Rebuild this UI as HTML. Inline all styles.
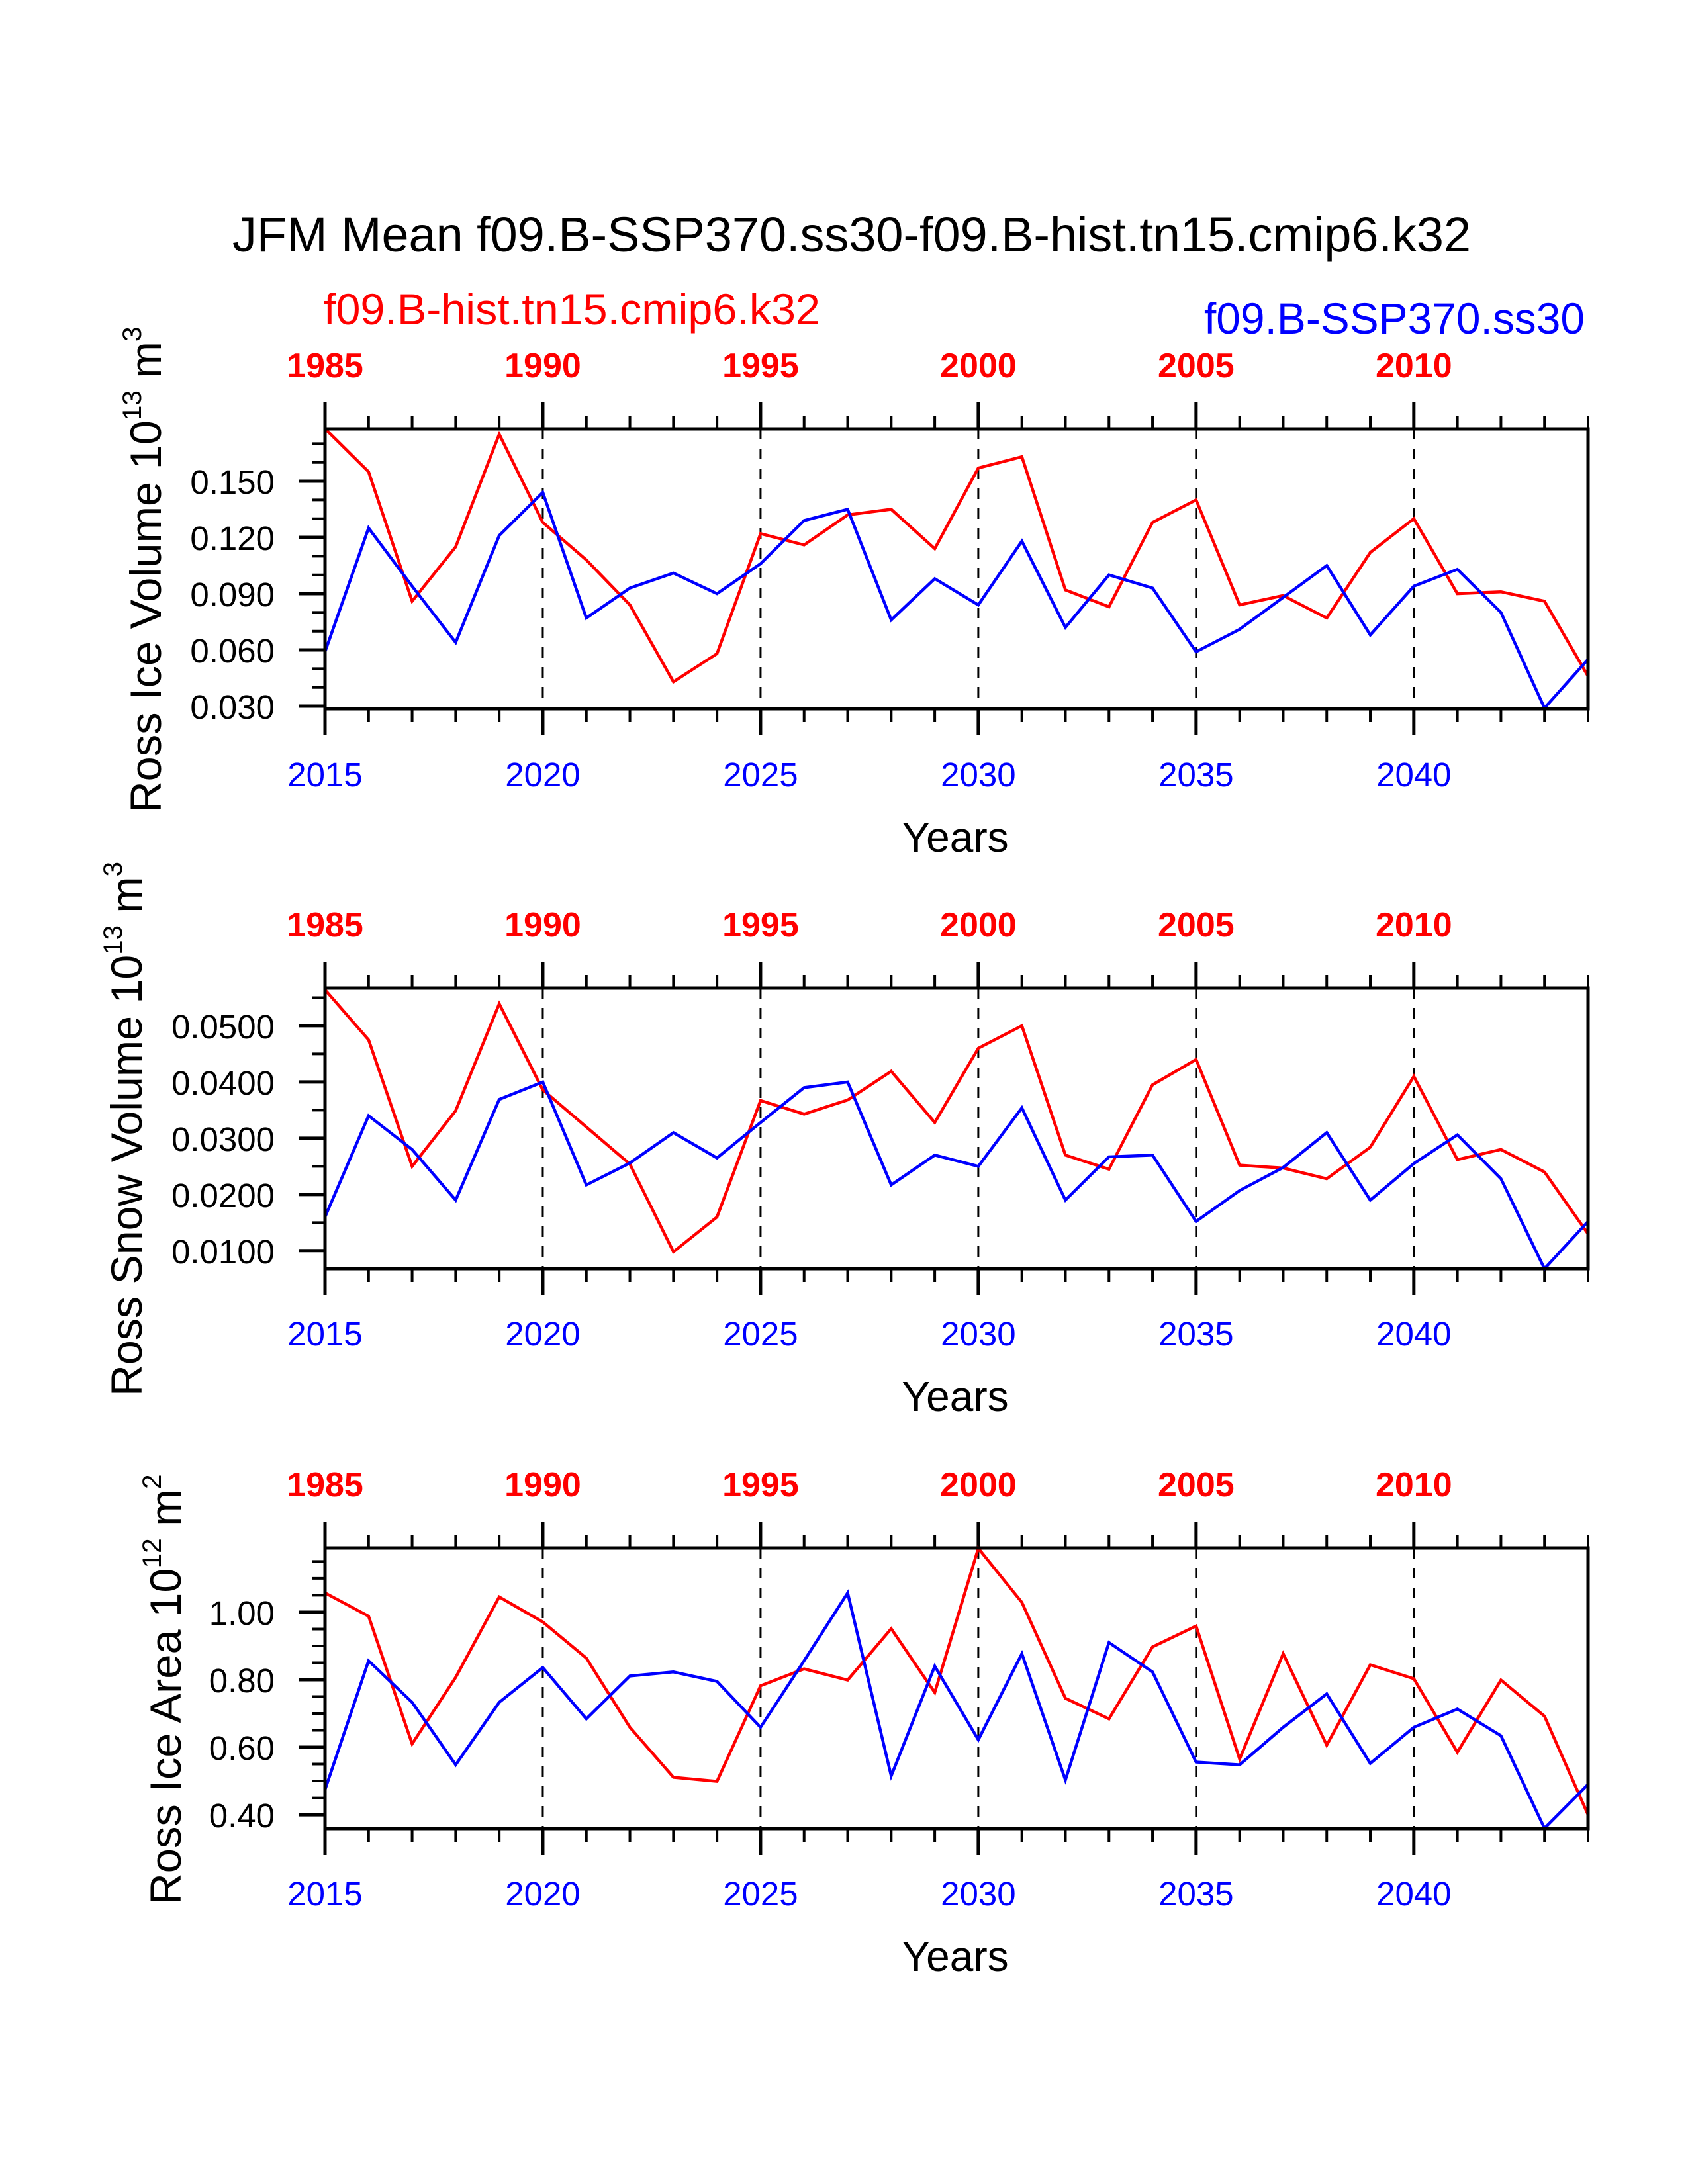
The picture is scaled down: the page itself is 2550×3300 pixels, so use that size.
<!DOCTYPE html>
<html><head><meta charset="utf-8"><style>
html,body{margin:0;padding:0;background:#fff}
svg{display:block}
text{font-family:"Liberation Sans",sans-serif}
</style></head><body>
<svg id="chart" width="2550" height="3300" viewBox="0 0 2550 3300" xmlns="http://www.w3.org/2000/svg">
<text x="351" y="380" font-size="74" textLength="1871" lengthAdjust="spacingAndGlyphs">JFM Mean f09.B-SSP370.ss30-f09.B-hist.tn15.cmip6.k32</text>
<text x="489" y="490" font-size="66" fill="#ff0000" textLength="750" lengthAdjust="spacingAndGlyphs">f09.B-hist.tn15.cmip6.k32</text>
<text x="2394" y="504" font-size="66" fill="#0000ff" text-anchor="end" textLength="575" lengthAdjust="spacingAndGlyphs">f09.B-SSP370.ss30</text>
<g id="panels"></g>
</svg>
<script>
const years = [2015,2016,2017,2018,2019,2020,2021,2022,2023,2024,2025,2026,2027,2028,2029,2030,2031,2032,2033,2034,2035,2036,2037,2038,2039,2040,2041,2042,2043,2044];
const bottomTickLabels = ["2015","2020","2025","2030","2035","2040"];
const topTickLabels = ["1985","1990","1995","2000","2005","2010"];
const iceVolHist = [0.178,0.155,0.086,0.115,0.175,0.128,0.108,0.084,0.043,0.058,0.122,0.116,0.132,0.135,0.114,0.157,0.163,0.092,0.083,0.128,0.140,0.084,0.089,0.077,0.112,0.130,0.090,0.091,0.086,0.046];
const iceVolSsp = [0.059,0.125,0.094,0.064,0.121,0.144,0.077,0.093,0.101,0.090,0.106,0.129,0.135,0.076,0.098,0.084,0.118,0.072,0.100,0.093,0.059,0.071,0.088,0.105,0.068,0.094,0.103,0.080,0.029,0.055];
const snowVolHist = [0.0564,0.0475,0.025,0.0349,0.0539,0.0386,0.032,0.0254,0.0098,0.016,0.0367,0.0343,0.0368,0.0419,0.0328,0.046,0.050,0.027,0.0245,0.0395,0.044,0.0252,0.0247,0.0228,0.0284,0.041,0.0262,0.028,0.024,0.013];
const snowVolSsp = [0.016,0.034,0.028,0.019,0.0369,0.040,0.0217,0.0256,0.031,0.0265,0.0328,0.039,0.040,0.0217,0.027,0.025,0.0354,0.019,0.0267,0.027,0.0152,0.0207,0.0248,0.031,0.019,0.0255,0.0306,0.0228,0.0068,0.0152];
const iceAreaHist = [1.057,0.988,0.61,0.807,1.045,0.971,0.864,0.659,0.511,0.499,0.782,0.832,0.799,0.951,0.762,1.189,1.029,0.745,0.684,0.897,0.959,0.565,0.877,0.606,0.844,0.803,0.585,0.799,0.692,0.40];
const iceAreaSsp = [0.474,0.856,0.733,0.548,0.733,0.836,0.684,0.811,0.823,0.795,0.659,0.856,1.057,0.515,0.840,0.622,0.877,0.503,0.910,0.823,0.556,0.548,0.659,0.758,0.552,0.659,0.713,0.634,0.36,0.49];
const iceVolTicks = [0.030,0.060,0.090,0.120,0.150];
const snowVolTicks = [0.0100,0.0200,0.0300,0.0400,0.0500];
const iceAreaTicks = [0.40,0.60,0.80,1.00];

const NS="http://www.w3.org/2000/svg";
const root=document.getElementById('panels');
function mk(tag,attrs,parent){const e=document.createElementNS(NS,tag);for(const k in attrs)e.setAttribute(k,attrs[k]);(parent||root).appendChild(e);return e;}
const X0=491,X1=2399;
function xs(i){return X0+(X1-X0)*i/(years.length-1);}

const panels=[
 {name:'ice-volume',top:648,bot:1071,vmin:0.0286,vmax:0.1779,ticks:iceVolTicks,dec:3,minor:0.01,hist:iceVolHist,ssp:iceVolSsp,title:['Ross Ice Volume 10','13',' m','3'],tx:243,tcy:861,tlen:735},
 {name:'snow-volume',top:1493,bot:1917,vmin:0.0068,vmax:0.0567,ticks:snowVolTicks,dec:4,minor:0.005,hist:snowVolHist,ssp:snowVolSsp,title:['Ross Snow Volume 10','13',' m','3'],tx:214,tcy:1706,tlen:808},
 {name:'ice-area',top:2339,bot:2763,vmin:0.359,vmax:1.19,ticks:iceAreaTicks,dec:2,minor:0.05,hist:iceAreaHist,ssp:iceAreaSsp,title:['Ross Ice Area 10','12',' m','2'],tx:273,tcy:2553,tlen:651}
];
panels.forEach(p=>{
 const g=mk('g',{});
 
 
 const ys=v=>p.bot-(v-p.vmin)/(p.vmax-p.vmin)*(p.bot-p.top);
 const dy=p.top-648;
 for(let i=5;i<years.length;i+=5){
  const l=mk('line',{x1:xs(i),x2:xs(i),y1:p.top,y2:p.bot,stroke:'#000','stroke-width':3,'stroke-dasharray':'16,14'},g);
  
  
 }
 years.forEach((y,i)=>{
  const major=i%5===0, L=major?40:20;
  mk('line',{x1:xs(i),x2:xs(i),y1:p.top-L,y2:p.top,stroke:'#000','stroke-width':major?5:4},g);
  mk('line',{x1:xs(i),x2:xs(i),y1:p.bot,y2:p.bot+L,stroke:'#000','stroke-width':major?5:4},g);
 });
 bottomTickLabels.forEach((lab,k)=>{
  const t=mk('text',{x:xs(k*5),y:1188+dy,'font-size':51,fill:'#0000ff','text-anchor':'middle'},g);
  
  
  t.textContent=lab;
 });
 topTickLabels.forEach((lab,k)=>{
  const t=mk('text',{x:xs(k*5),y:570+dy,'font-size':52,'font-weight':'bold',fill:'#ff0000','text-anchor':'middle'},g);
  
  
  t.textContent=lab;
 });
 const n0=Math.ceil(p.vmin/p.minor-1e-6), n1=Math.floor(p.vmax/p.minor+1e-6);
 for(let n=n0;n<=n1;n++){const v=n*p.minor;mk('line',{x1:X0-20,x2:X0,y1:ys(v),y2:ys(v),stroke:'#000','stroke-width':4},g);}
 p.ticks.forEach(v=>{
  mk('line',{x1:X0-40,x2:X0,y1:ys(v),y2:ys(v),stroke:'#000','stroke-width':5},g);
  const t=mk('text',{x:415,y:ys(v)+19,'font-size':51,'text-anchor':'end'},g);
  
  
  t.textContent=v.toFixed(p.dec);
 });
 [['hist','#ff0000'],['ssp','#0000ff']].forEach(([k,c])=>{
  const pts=p[k].map((v,i)=>xs(i)+','+ys(v)).join(' ');
  const pl=mk('polyline',{points:pts,fill:'none',stroke:c,'stroke-width':4.5,'stroke-linejoin':'miter'},g);
  
  
 });
 const box=mk('rect',{x:X0,y:p.top,width:X1-X0,height:p.bot-p.top,fill:'none',stroke:'#000','stroke-width':5},g);
 
 
 const yl=mk('text',{x:1443,y:1287+dy,'font-size':64,'text-anchor':'middle'},g);
 
 
 yl.textContent='Years';
 const tt=mk('text',{x:0,y:0,'font-size':66,'text-anchor':'middle',transform:`translate(${p.tx},${p.tcy}) rotate(-90)`,textLength:p.tlen,lengthAdjust:'spacingAndGlyphs'},g);
 
 
 p.title.forEach((s,i)=>{const ts=mk('tspan',{},tt);if(i%2===1){ts.setAttribute('font-size','40');ts.setAttribute('dy','-30');}else if(i>0){ts.setAttribute('dy','30');}ts.textContent=s;});
});
</script>
</body></html>
